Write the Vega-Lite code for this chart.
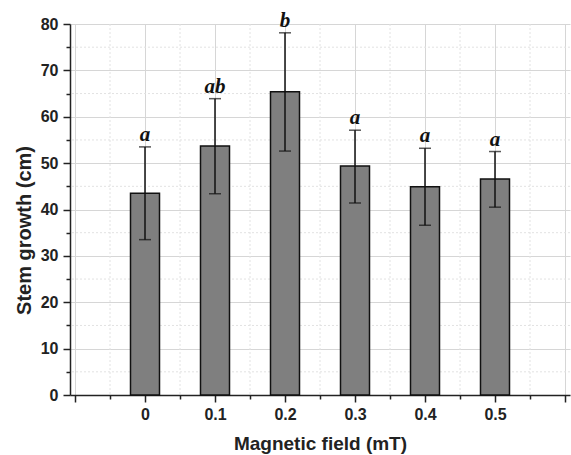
{
  "$schema": "https://vega.github.io/schema/vega-lite/v6.json",
  "width": 500,
  "height": 371,
  "autosize": {"type": "none"},
  "padding": {"left": 70, "top": 24, "right": 1, "bottom": 60},
  "background": "white",
  "config": {"view": {"stroke": null}, "font": "Liberation Sans"},
  "datasets": {
    "bars": [
      {"field": 0, "mean": 43.5, "lo": 33.5, "hi": 53.5, "grp": "a"},
      {"field": 0.1, "mean": 53.7, "lo": 43.4, "hi": 63.9, "grp": "ab"},
      {"field": 0.2, "mean": 65.4, "lo": 52.6, "hi": 78.1, "grp": "b"},
      {"field": 0.3, "mean": 49.4, "lo": 41.4, "hi": 57.1, "grp": "a"},
      {"field": 0.4, "mean": 44.9, "lo": 36.6, "hi": 53.2, "grp": "a"},
      {"field": 0.5, "mean": 46.6, "lo": 40.5, "hi": 52.5, "grp": "a"}
    ],
    "minorY": [{"v": 5}, {"v": 15}, {"v": 25}, {"v": 35}, {"v": 45}, {"v": 55}, {"v": 65}, {"v": 75}],
    "minorX": [{"v": -0.05}, {"v": 0.05}, {"v": 0.15}, {"v": 0.25}, {"v": 0.35}, {"v": 0.45}, {"v": 0.55}]
  },
  "resolve": {"axis": {"x": "independent", "y": "independent"}},
  "layer": [
    {
      "data": {"name": "minorY"},
      "mark": {"type": "rule", "color": "#e2e2e2", "strokeDash": [2, 2], "strokeWidth": 1},
      "encoding": {
        "y": {"field": "v", "type": "quantitative", "scale": {"domain": [0, 80], "nice": false},
          "axis": {"orient": "left", "values": [5, 15, 25, 35, 45, 55, 65, 75], "labels": false, "domain": false, "grid": false, "tickSize": 4, "tickWidth": 1.5, "tickColor": "#222", "title": null}}
      }
    },
    {
      "data": {"name": "minorX"},
      "mark": {"type": "rule", "color": "#e2e2e2", "strokeDash": [2, 2], "strokeWidth": 1},
      "encoding": {
        "x": {"field": "v", "type": "quantitative", "scale": {"domain": [-0.1, 0.6], "nice": false, "zero": false},
          "axis": {"orient": "bottom", "values": [-0.05, 0.05, 0.15, 0.25, 0.35, 0.45, 0.55], "labels": false, "domain": false, "grid": false, "tickSize": 4, "tickWidth": 1.5, "tickColor": "#222", "title": null}}
      }
    },
    {
      "data": {"name": "bars"},
      "mark": {"type": "bar", "width": 29, "color": "#7f7f7f", "stroke": "#111", "strokeWidth": 1.5},
      "encoding": {
        "x": {"field": "field", "type": "quantitative", "scale": {"domain": [-0.1, 0.6], "nice": false, "zero": false},
          "axis": {"orient": "bottom", "values": [-0.1, 0, 0.1, 0.2, 0.3, 0.4, 0.5, 0.6], "labelExpr": "datum.value < -0.01 || datum.value > 0.55 ? '' : format(datum.value, '~g')",
            "grid": true, "gridColor": "#d6d6d6", "gridWidth": 1,
            "domainColor": "#222", "domainWidth": 1.5, "tickColor": "#222", "tickWidth": 1.5, "tickSize": 7,
            "labelFont": "Liberation Sans", "labelFontWeight": "bold", "labelFontSize": 16, "labelColor": "#222", "labelPadding": 4,
            "title": "Magnetic field (mT)", "titleFont": "Liberation Sans", "titleFontWeight": "bold", "titleFontSize": 19, "titleColor": "#222", "titlePadding": 12}},
        "y": {"field": "mean", "type": "quantitative", "scale": {"domain": [0, 80], "nice": false},
          "axis": {"orient": "left", "values": [0, 10, 20, 30, 40, 50, 60, 70, 80],
            "grid": true, "gridColor": "#d6d6d6", "gridWidth": 1,
            "domainColor": "#222", "domainWidth": 1.5, "tickColor": "#222", "tickWidth": 1.5, "tickSize": 7,
            "labelFont": "Liberation Sans", "labelFontWeight": "bold", "labelFontSize": 16, "labelColor": "#222", "labelPadding": 5,
            "title": "Stem growth (cm)", "titleFont": "Liberation Sans", "titleFontWeight": "bold", "titleFontSize": 20, "titleColor": "#222", "titlePadding": 6, "titleY": 206}}
      }
    },
    {
      "data": {"name": "bars"},
      "mark": {"type": "rule", "color": "#111", "strokeWidth": 1.5},
      "encoding": {
        "x": {"field": "field", "type": "quantitative", "axis": null},
        "y": {"field": "lo", "type": "quantitative", "axis": null},
        "y2": {"field": "hi"}
      }
    },
    {
      "data": {"name": "bars"},
      "mark": {"type": "tick", "color": "#111", "thickness": 1.5, "size": 12, "orient": "horizontal"},
      "encoding": {
        "x": {"field": "field", "type": "quantitative", "axis": null},
        "y": {"field": "hi", "type": "quantitative", "axis": null}
      }
    },
    {
      "data": {"name": "bars"},
      "mark": {"type": "tick", "color": "#111", "thickness": 1.5, "size": 12, "orient": "horizontal"},
      "encoding": {
        "x": {"field": "field", "type": "quantitative", "axis": null},
        "y": {"field": "lo", "type": "quantitative", "axis": null}
      }
    },
    {
      "data": {"name": "bars"},
      "mark": {"type": "text", "font": "Liberation Serif", "fontStyle": "italic", "fontWeight": "bold", "fontSize": 21, "color": "#111", "baseline": "alphabetic", "dy": -6},
      "encoding": {
        "x": {"field": "field", "type": "quantitative", "axis": null},
        "y": {"field": "hi", "type": "quantitative", "axis": null},
        "text": {"field": "grp"}
      }
    }
  ]
}
